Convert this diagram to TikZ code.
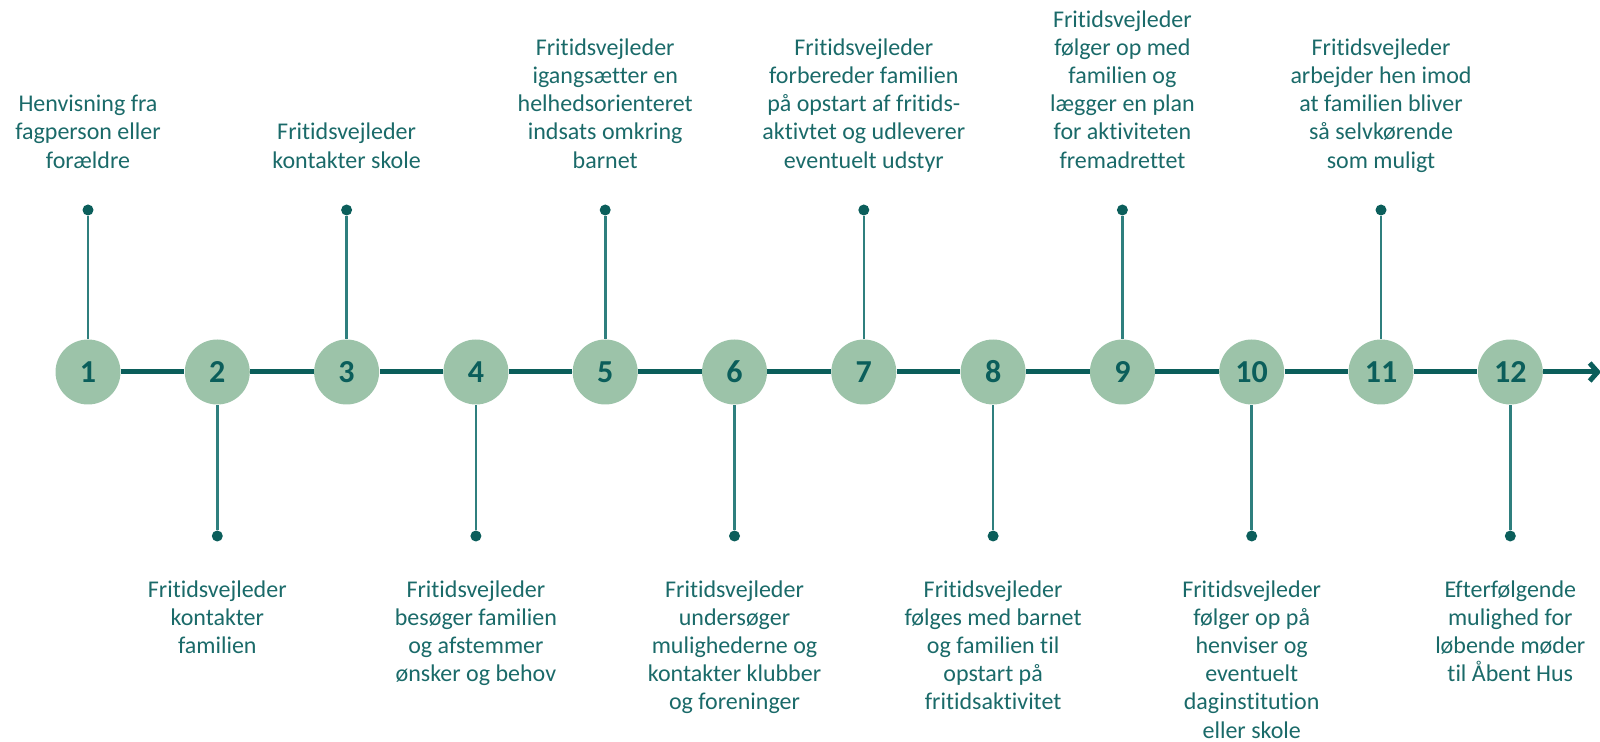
\documentclass[tikz,border=0pt]{standalone}
\usepackage{fontspec}
\setmainfont{Carlito}[Ligatures=NoCommon]
\usetikzlibrary{arrows.meta}
\definecolor{DeepTeal}{HTML}{0B5E5B}
\definecolor{StemTeal}{HTML}{2F7F7E}
\definecolor{TextTeal}{HTML}{1A6A69}
\definecolor{SoftGreen}{HTML}{9CC3A9}

\begin{document}
\begin{tikzpicture}[x=0.5pt, y=-0.5pt,
    stepnode/.style={circle, fill=SoftGreen, minimum size=32.5pt, inner sep=0pt,
        text=DeepTeal, font=\fontsize{16}{16}\selectfont\bfseries},
    dotnode/.style={circle, fill=DeepTeal, minimum size=5.5pt, inner sep=0pt},
    stem/.style={StemTeal, line width=1.3pt},
    note/.style={align=center, inner sep=0pt, text=TextTeal,
        font=\fontsize{12}{14.1}\selectfont,
        execute at begin node=\strut, execute at end node=\strut}]
    \useasboundingbox (0,0) rectangle (1600,742);

    % Steps on the timeline
    \node[stepnode] (c1) at (88,372) {1};
    \node[stepnode] (c2) at (217.3,372) {2};
    \node[stepnode] (c3) at (346.6,372) {3};
    \node[stepnode] (c4) at (475.9,372) {4};
    \node[stepnode] (c5) at (605.2,372) {5};
    \node[stepnode] (c6) at (734.5,372) {6};
    \node[stepnode] (c7) at (863.8,372) {7};
    \node[stepnode] (c8) at (993.1,372) {8};
    \node[stepnode] (c9) at (1122.4,372) {9};
    \node[stepnode] (c10) at (1251.7,372) {10};
    \node[stepnode] (c11) at (1381,372) {11};
    \node[stepnode] (c12) at (1510.3,372) {12};
    \coordinate (tip) at (1601,372);

    % Timeline
    \draw[DeepTeal, line width=2.5pt, -{Straight Barb[length=4pt, width=9pt]}]
        (c1) -- (c2) -- (c3) -- (c4) -- (c5) -- (c6) -- (c7) -- (c8)
        -- (c9) -- (c10) -- (c11) -- (c12) -- (tip);

    % Dots above and below
    \node[dotnode] (d1) at (88,210) {};
    \node[dotnode] (d2) at (217.3,536) {};
    \node[dotnode] (d3) at (346.6,210) {};
    \node[dotnode] (d4) at (475.9,536) {};
    \node[dotnode] (d5) at (605.2,210) {};
    \node[dotnode] (d6) at (734.5,536) {};
    \node[dotnode] (d7) at (863.8,210) {};
    \node[dotnode] (d8) at (993.1,536) {};
    \node[dotnode] (d9) at (1122.4,210) {};
    \node[dotnode] (d10) at (1251.7,536) {};
    \node[dotnode] (d11) at (1381,210) {};
    \node[dotnode] (d12) at (1510.3,536) {};

    % Stems
    \draw[stem] (d1) -- (c1);
    \draw[stem] (d2) -- (c2);
    \draw[stem] (d3) -- (c3);
    \draw[stem] (d4) -- (c4);
    \draw[stem] (d5) -- (c5);
    \draw[stem] (d6) -- (c6);
    \draw[stem] (d7) -- (c7);
    \draw[stem] (d8) -- (c8);
    \draw[stem] (d9) -- (c9);
    \draw[stem] (d10) -- (c10);
    \draw[stem] (d11) -- (c11);
    \draw[stem] (d12) -- (c12);

    % Texts above
    \node[note, anchor=south] (t1) at (88,177) {Henvisning fra\\fagperson eller\\forældre};
    \node[note, anchor=south] (t3) at (346.6,177) {Fritidsvejleder\\kontakter skole};
    \node[note, anchor=south] (t5) at (605.2,177) {Fritidsvejleder\\igangsætter en\\helhedsorienteret\\indsats omkring\\barnet};
    \node[note, anchor=south] (t7) at (863.8,177) {Fritidsvejleder\\forbereder familien\\på opstart af fritids-\\aktivtet og udleverer\\eventuelt udstyr};
    \node[note, anchor=south] (t9) at (1122.4,177) {Fritidsvejleder\\følger op med\\familien og\\lægger en plan\\for aktiviteten\\fremadrettet};
    \node[note, anchor=south] (t11) at (1381,177) {Fritidsvejleder\\arbejder hen imod\\at familien bliver\\så selvkørende\\som muligt};

    % Texts below
    \node[note, anchor=north] (t2) at (217.3,580) {Fritidsvejleder\\kontakter\\familien};
    \node[note, anchor=north] (t4) at (475.9,580) {Fritidsvejleder\\besøger familien\\og afstemmer\\ønsker og behov};
    \node[note, anchor=north] (t6) at (734.5,580) {Fritidsvejleder\\undersøger\\mulighederne og\\kontakter klubber\\og foreninger};
    \node[note, anchor=north] (t8) at (993.1,580) {Fritidsvejleder\\følges med barnet\\og familien til\\opstart på\\fritidsaktivitet};
    \node[note, anchor=north] (t10) at (1251.7,580) {Fritidsvejleder\\følger op på\\henviser og\\eventuelt\\daginstitution\\eller skole};
    \node[note, anchor=north] (t12) at (1510.3,580) {Efterfølgende\\mulighed for\\løbende møder\\til Åbent Hus};
\end{tikzpicture}
\end{document}
